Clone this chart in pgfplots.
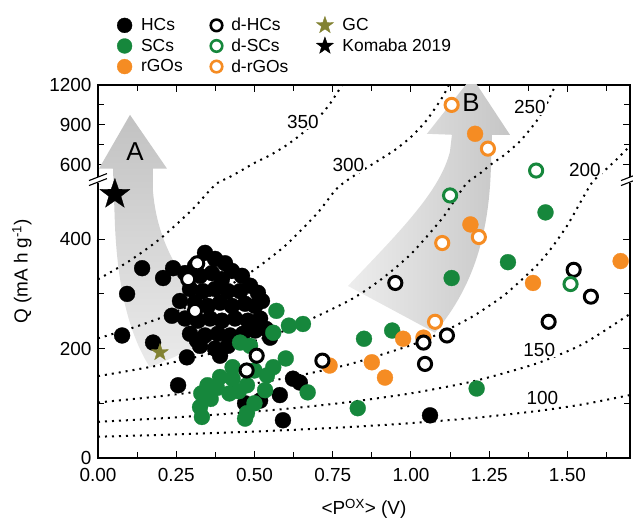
\documentclass[border=0pt]{standalone}
\usepackage{fontspec}
\setmainfont{Liberation Sans}
\usepackage{pgfplots}
\pgfplotsset{compat=1.18}
\definecolor{scgreen}{RGB}{22,135,60}
\definecolor{rgoorange}{RGB}{245,140,35}
\definecolor{gcolive}{RGB}{130,130,50}
\pgfdeclareplotmark{fstar}{%
  \pgfpathmoveto{\pgfpointpolar{90}{\pgfplotmarksize}}%
  \pgfpathlineto{\pgfpointpolar{126}{0.40\pgfplotmarksize}}%
  \pgfpathlineto{\pgfpointpolar{162}{\pgfplotmarksize}}%
  \pgfpathlineto{\pgfpointpolar{198}{0.40\pgfplotmarksize}}%
  \pgfpathlineto{\pgfpointpolar{234}{\pgfplotmarksize}}%
  \pgfpathlineto{\pgfpointpolar{270}{0.40\pgfplotmarksize}}%
  \pgfpathlineto{\pgfpointpolar{306}{\pgfplotmarksize}}%
  \pgfpathlineto{\pgfpointpolar{342}{0.40\pgfplotmarksize}}%
  \pgfpathlineto{\pgfpointpolar{18}{\pgfplotmarksize}}%
  \pgfpathlineto{\pgfpointpolar{54}{0.40\pgfplotmarksize}}%
  \pgfpathclose\pgfusepathqfillstroke}
\pgfplotsset{
  hcs/.style={only marks, mark=*, mark size=8pt, mark options={fill=black, draw=black, line width=0.3pt}},
  scs/.style={only marks, mark=*, mark size=8pt, mark options={fill=scgreen, draw=scgreen, line width=0.3pt}},
  rgos/.style={only marks, mark=*, mark size=8pt, mark options={fill=rgoorange, draw=rgoorange, line width=0.3pt}},
  dhcs/.style={only marks, mark=*, mark size=6.6pt, mark options={fill=white, draw=black, line width=3pt}},
  dscs/.style={only marks, mark=*, mark size=6.6pt, mark options={fill=white, draw=scgreen, line width=3pt}},
  drgos/.style={only marks, mark=*, mark size=6.6pt, mark options={fill=white, draw=rgoorange, line width=3pt}},
  curve/.style={black, line width=2bp, dash pattern=on 2bp off 5bp, smooth, tension=0.4},
}
\newcommand\legtxt[1]{\hspace*{7bp}#1}
\begin{document}
\begin{tikzpicture}
\begin{axis}[
  scale only axis, width=532bp, height=373bp, at={(0,0)}, anchor=south west,
  xmin=0, xmax=1.7, ymin=0, ymax=681.9,
  y filter/.expression={y>600 ? 391+0.2424*y : (y>500 ? 318+0.364*y : y)},
  xtick={0,0.25,0.5,0.75,1,1.25,1.5},
  xticklabels={0.00,0.25,0.50,0.75,1.00,1.25,1.50},
  minor xtick={0.125,0.375,0.625,0.875,1.125,1.375,1.625},
  ytick={0,200,400,536.4,609.2,681.9},
  yticklabels={0,200,400,600,900,1200},
  minor ytick={100,300,572.8,645.5},
  major tick length=7bp, minor tick length=6bp,
  tick style={black, line width=1bp},
  axis line style={line width=1.2bp},
  ticklabel style={font=\fontsize{19}{22}\selectfont},
  xticklabel style={yshift=-7bp},
  yticklabel style={xshift=-3bp},
  /pgf/number format/assume math mode=true,
  xlabel={<P\textsuperscript{OX}> (V)},
  ylabel={Q (mA h g\textsuperscript{-1})},
  label style={font=\fontsize{19}{22}\selectfont},
  xlabel style={at={(axis description cs:0.5,-0.137)}, anchor=center},
  ylabel style={at={(axis description cs:-0.143,0.5)}, anchor=center},
  legend style={at={(axis description cs:0.03,1.19)}, anchor=north west, draw=none, fill=none,
    font=\fontsize{17.5}{20}\selectfont, row sep=2.5bp},
  legend columns=3,
  legend cell align=left,
  /tikz/every even column/.append style={column sep=26bp},
]
% arrows (decoration)
\shade[top color=gray!48, bottom color=gray!16]
  (axis cs:0.1022,627.3) -- (axis cs:0.2204,529.1) -- (axis cs:0.1757,529.1) -- (axis cs:0.1757,487.3)
  .. controls (axis cs:0.1917,378.2) and (axis cs:0.2939,296.4) .. (axis cs:0.4377,232.7)
  -- (axis cs:0.1661,165.5)
  .. controls (axis cs:0.1022,223.6) and (axis cs:0.0639,305.5) .. (axis cs:0.0543,423.6)
  -- (axis cs:0.0479,529.1) -- (axis cs:0.0032,529.1) -- cycle;
\shade[left color=gray!14, right color=gray!45]
  (axis cs:1.1949,696.4) -- (axis cs:1.3163,590.9) -- (axis cs:1.2588,590.9) -- (axis cs:1.2556,532.7)
  .. controls (axis cs:1.2492,396.4) and (axis cs:1.1885,305.5) .. (axis cs:1.0767,229.1)
  -- (axis cs:0.7987,314.5)
  .. controls (axis cs:0.9649,414.5) and (axis cs:1.0927,487.3) .. (axis cs:1.1246,560)
  -- (axis cs:1.1310,590.9) -- (axis cs:1.0511,592.7) -- cycle;
\node[font=\fontsize{26}{30}\selectfont] at (axis cs:0.118,560) {A};
\node[font=\fontsize{26}{30}\selectfont] at (axis cs:1.192,649) {B};
% energy density curves
\addplot[curve, forget plot] coordinates {(0,38.9) (0.2,42.2) (0.4,46.1) (0.6,50.8) (0.8,56.5) (1.0,63.7) (1.2,73.1) (1.4,85.6) (1.55,98.1) (1.7,115.1)};
\addplot[curve, forget plot] coordinates {(0,66.1) (0.2,72.5) (0.4,80.2) (0.6,89.8) (0.8,102.1) (1.0,118.2) (1.2,140.3) (1.4,172.5) (1.55,208.5) (1.7,263.4)};
\addplot[curve, forget plot] coordinates {(0,101.5) (0.2,113.0) (0.4,127.4) (0.6,146.0) (0.8,170.9) (1.0,206.2) (1.1,229.9) (1.2,259.7) (1.3,298.5) (1.4,350.8) (1.45,384.6) (1.5,425.5) (1.55,476.1) (1.58,512.7) (1.62,571.3) (1.66,645) (1.7,740.6)};
\addplot[curve, forget plot] coordinates {(0,149.6) (0.2,170.0) (0.4,196.7) (0.6,233.5) (0.8,287.1) (0.9,324.4) (1.0,372.8) (1.1,438.1) (1.15,480.2) (1.18,509.5) (1.22,554.7) (1.26,608.8) (1.3,674.5) (1.35,779.6) (1.4,923.7) (1.43,1038.8) (1.462,1200)};
\addplot[curve, forget plot] coordinates {(0,218.8) (0.1,236) (0.2,256.1) (0.3,280) (0.4,308.9) (0.5,344.3) (0.6,389) (0.7,446.9) (0.76,490.8) (0.8,525.2) (0.85,575.5) (0.9,636.6) (0.95,712.2) (1.0,808.1) (1.05,933.8) (1.1,1106) (1.121,1200)};
\addplot[curve, forget plot] coordinates {(0,326.5) (0.1,360.1) (0.2,401.4) (0.3,453.5) (0.35,484.9) (0.38,505.9) (0.42,536.9) (0.46,572) (0.5,612) (0.55,670.7) (0.6,741.8) (0.65,829.7) (0.7,941.2) (0.74,1054.7) (0.78,1199.2)};
\node[fill=white, inner sep=1bp, font=\fontsize{19}{22}\selectfont] at (axis cs:0.655,615) {350};
\node[fill=white, inner sep=1bp, font=\fontsize{19}{22}\selectfont] at (axis cs:0.80,536) {300};
\node[fill=white, inner sep=1bp, font=\fontsize{19}{22}\selectfont] at (axis cs:1.38,642) {250};
\node[fill=white, inner sep=1bp, font=\fontsize{19}{22}\selectfont] at (axis cs:1.556,527) {200};
\node[fill=white, inner sep=1bp, font=\fontsize{19}{22}\selectfont] at (axis cs:1.41,198) {150};
\node[fill=white, inner sep=1bp, font=\fontsize{19}{22}\selectfont] at (axis cs:1.42,109) {100};
% HCs
\addplot[hcs, forget plot] coordinates {
(0.342,375) (0.374,364) (0.406,356) (0.310,351) (0.278,338) (0.326,333) (0.364,338) (0.396,327)
(0.428,342) (0.460,333) (0.294,309) (0.335,305) (0.374,309) (0.415,305) (0.454,305) (0.486,315)
(0.511,302) (0.262,287) (0.310,284) (0.351,278) (0.390,284) (0.428,278) (0.470,282) (0.502,278)
(0.524,287) (0.278,255) (0.319,251) (0.358,255) (0.396,251) (0.438,255) (0.479,251) (0.518,255)
(0.294,227) (0.342,224) (0.383,227) (0.422,224) (0.463,227) (0.502,233) (0.537,236) (0.326,205)
(0.374,200) (0.415,205) (0.454,215)
(0.141,347) (0.240,347) (0.208,329) (0.093,300) (0.077,224) (0.176,211) (0.236,260) (0.256,133)
(0.284,184) (0.316,215) (0.390,187) (0.550,220) (0.623,145) (0.645,138) (0.470,100) (0.518,105)
(0.581,115) (0.591,69) (1.061,78)};
% SCs
\addplot[scs, forget plot] coordinates {
(0.454,211) (0.486,205) (0.57,269) (0.56,229) (0.61,242) (0.655,245) (0.60,182) (0.56,166)
(0.54,151) (0.43,166) (0.39,148) (0.35,133) (0.33,118) (0.326,93) (0.332,75) (0.42,118)
(0.476,133) (0.50,100) (0.476,82) (0.534,124) (0.67,120) (0.38,128) (0.45,122) (0.47,72)
(0.83,91) (0.85,218) (0.94,233) (1.13,329) (1.31,358) (1.43,449) (1.21,127) (0.36,108)
(0.43,145) (0.50,160)};
% rGOs
\addplot[rgos, forget plot] coordinates {(0.74,169) (0.875,175) (0.917,147) (0.975,218) (1.04,220) (1.19,427) (1.39,320) (1.67,360) (1.205,832)};
% d-HCs
\addplot[dhcs, forget plot] coordinates {(0.717,178) (0.95,320) (1.04,211) (1.045,172) (1.115,224) (0.507,187) (0.475,160) (1.52,344) (1.575,295) (1.44,249) (0.317,356) (0.288,327) (0.31,269)};
% d-SCs
\addplot[dscs, forget plot] coordinates {(1.125,480) (1.51,318) (1.40,570)};
% d-rGOs
\addplot[drgos, forget plot] coordinates {(1.13,1050) (1.246,720) (1.10,393) (1.217,404) (1.077,249)};
% GC
\addplot[only marks, mark=fstar, mark size=9pt, mark options={fill=gcolive, draw=gcolive, line width=0.3pt}, forget plot] coordinates {(0.198,193)};
% Komaba 2019
\addplot[only marks, mark=fstar, mark size=16pt, mark options={fill=black, draw=black, line width=0.3pt}, forget plot] coordinates {(0.054,482)};
% legend
\addlegendimage{hcs, mark size=7.5pt}\addlegendentry{\legtxt{HCs}}
\addlegendimage{dhcs, mark size=5.8pt, mark options={line width=2.6pt, draw=black, fill=white}}\addlegendentry{\legtxt{d-HCs}}
\addlegendimage{only marks, mark=fstar, mark size=9pt, mark options={fill=gcolive, draw=gcolive}}\addlegendentry{\legtxt{GC}}
\addlegendimage{scs, mark size=7.5pt}\addlegendentry{\legtxt{SCs}}
\addlegendimage{dscs, mark size=5.8pt, mark options={line width=2.6pt, draw=scgreen, fill=white}}\addlegendentry{\legtxt{d-SCs}}
\addlegendimage{only marks, mark=fstar, mark size=9pt, mark options={fill=black, draw=black}}\addlegendentry{\legtxt{Komaba 2019}}
\addlegendimage{rgos, mark size=7.5pt}\addlegendentry{\legtxt{rGOs}}
\addlegendimage{drgos, mark size=5.8pt, mark options={line width=2.6pt, draw=rgoorange, fill=white}}\addlegendentry{\legtxt{d-rGOs}}
\coordinate (bl) at (axis cs:0,509);
\coordinate (br) at (axis cs:1.7,509);
\end{axis}
\foreach \c in {bl,br}{
  \fill[white] ([xshift=-5bp,yshift=-3bp]\c) rectangle ([xshift=5bp,yshift=3bp]\c);
  \draw[line width=1.1bp] ([xshift=-9bp,yshift=-6bp]\c) -- ([xshift=9bp,yshift=1bp]\c);
  \draw[line width=1.1bp] ([xshift=-9bp,yshift=-1bp]\c) -- ([xshift=9bp,yshift=6bp]\c);
}
\pgfresetboundingbox
\useasboundingbox (-98bp,-64bp) rectangle (535bp,458bp);
\end{tikzpicture}
\end{document}
